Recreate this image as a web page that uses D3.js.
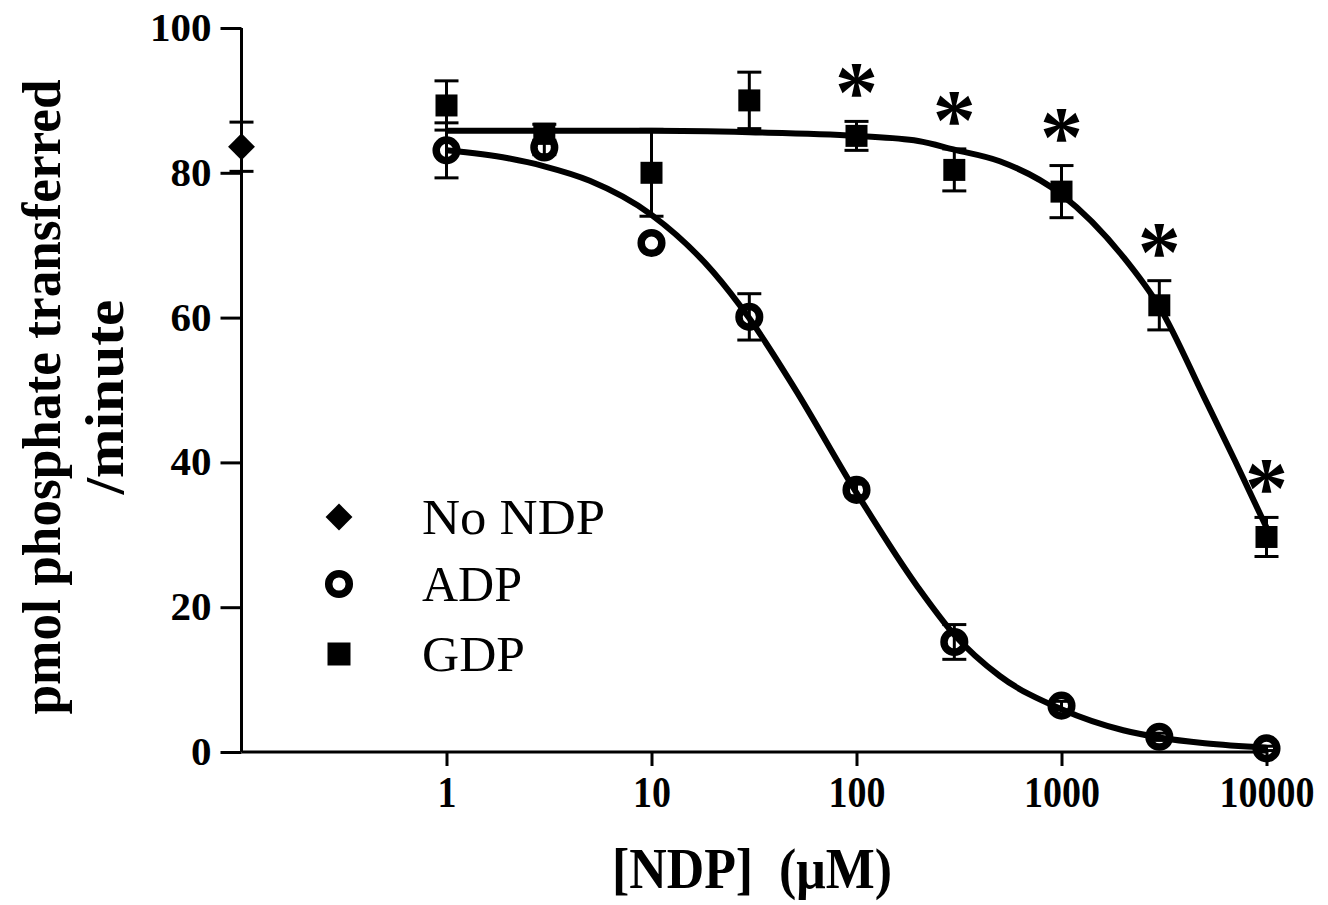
<!DOCTYPE html>
<html>
<head>
<meta charset="utf-8">
<script src="https://cdn.jsdelivr.net/npm/d3@7"></script>
<style>
  html, body { margin: 0; padding: 0; background: #fff; }
  svg { display: block; }
  text { font-family: "Liberation Serif", "Times New Roman", serif; fill: #000; white-space: pre; }
</style>
</head>
<body>
<svg id="chart" width="1328" height="905"></svg>
<script>
// ---------------- data ----------------
const concentrations = [1, 3, 10, 30, 100, 300, 1000, 3000, 10000];          // µM
const adpMean = [83.1, 83.5, 70.3, 60.1, 36.2, 15.2, 6.4, 2.1, 0.5];
const adpSem  = [3.8, 1.0, 0.0, 3.2, 0.8, 2.4, 0.6, 0.5, 0.3];
const gdpMean = [89.3, 85.4, 80.0, 90.0, 85.1, 80.4, 77.4, 61.7, 29.7];
const gdpSem  = [3.4, 1.3, 6.0, 3.9, 2.0, 2.9, 3.6, 3.4, 2.7];
const noNdpConc = [0.1];
const noNdpMean = [83.6];
const noNdpSem  = [3.4];
const significantConc = [100, 300, 1000, 3000, 10000];

// fitted curves
const adpFitX = [1, 2, 3, 5, 10, 20, 30, 50, 100, 200, 300, 500, 1000, 2000, 3000, 5000, 10000];
const adpFitY = [83.1, 82.0, 80.9, 78.9, 74.2, 66.3, 59.9, 50.2, 35.8, 22.7, 16.2, 10.5, 5.9, 3.0, 2.0, 1.2, 0.6];
const gdpFitX = [1, 10, 30, 100, 200, 300, 500, 1000, 2000, 3000, 5000, 7000, 10000];
const gdpFitY = [85.8, 85.8, 85.6, 85.1, 84.4, 83.2, 81.6, 77.0, 68.4, 61.5, 48.8, 40.3, 31.0];

const xTickValues = [1, 10, 100, 1000, 10000];
const xTickLabels = ["1", "10", "100", "1000", "10000"];
const yTickValues = [0, 20, 40, 60, 80, 100];
const legendLabels = ["No NDP", "ADP", "GDP"];
const xTitle = "[NDP]  (\u03BCM)";
const yTitleLines = ["pmol phosphate transferred", "/minute"];

// ---------------- layout ----------------
const svg = d3.select("#chart");
const x = d3.scaleLog().domain([0.1, 10000]).range([241.5, 1266.5]);
const y = d3.scaleLinear().domain([0, 100]).range([752, 28]);

// axes
const xAxis = d3.axisBottom(x).tickValues(xTickValues)
  .tickFormat((d, i) => xTickLabels[i]).tickSize(14).tickSizeOuter(0).tickPadding(10);
const gx = svg.append("g").attr("transform", `translate(0,${y(0)})`).call(xAxis);
gx.select(".domain").attr("stroke-width", 3).attr("d", `M${x(0.1)},0H${x(10000)}`);
gx.selectAll(".tick line").attr("stroke-width", 3);
gx.selectAll(".tick text")
  .attr("font-size", 44).attr("font-weight", "bold")
  .attr("dy", "0.71em")
  .attr("textLength", d => String(d).length * 19).attr("lengthAdjust", "spacingAndGlyphs");

const yAxis = d3.axisLeft(y).tickValues(yTickValues).tickSize(21).tickSizeOuter(0).tickPadding(9);
const gy = svg.append("g").attr("transform", `translate(${x(0.1)},0)`).call(yAxis);
gy.select(".domain").attr("stroke-width", 3).attr("d", `M0,${y(100)}V${y(0)}`);
gy.selectAll(".tick line").attr("stroke-width", 3);
gy.selectAll(".tick text")
  .attr("font-size", 39).attr("font-weight", "bold")
  .attr("textLength", d => String(d).length * 20.5).attr("lengthAdjust", "spacingAndGlyphs");

// axis titles
svg.append("text")
  .attr("x", 752).attr("y", 888)
  .attr("text-anchor", "middle")
  .attr("font-size", 58).attr("font-weight", "bold")
  .attr("textLength", 280).attr("lengthAdjust", "spacingAndGlyphs")
  .text(xTitle);

const yTitlePos = [{cx: 60, len: 635}, {cx: 123, len: 195}];
yTitleLines.forEach((t, i) => {
  svg.append("text")
    .attr("transform", `translate(${yTitlePos[i].cx},397) rotate(-90)`)
    .attr("text-anchor", "middle")
    .attr("font-size", 54).attr("font-weight", "bold")
    .attr("textLength", yTitlePos[i].len).attr("lengthAdjust", "spacingAndGlyphs")
    .text(t);
});

// ---------------- fitted curves ----------------
const line = d3.line().x(d => x(d[0])).y(d => y(d[1])).curve(d3.curveMonotoneX);
const plot = svg.append("g");
function errorBars(conc, mean, sem) {
  const g = plot.append("g").attr("stroke", "#000").attr("stroke-width", 3);
  conc.forEach((c, i) => {
    if (sem[i] <= 0) return;
    const cx = x(c), y1 = y(mean[i] + sem[i]), y2 = y(mean[i] - sem[i]);
    g.append("line").attr("x1", cx).attr("x2", cx).attr("y1", y1).attr("y2", y2);
    g.append("line").attr("x1", cx - 12).attr("x2", cx + 12).attr("y1", y1).attr("y2", y1);
    g.append("line").attr("x1", cx - 12).attr("x2", cx + 12).attr("y1", y2).attr("y2", y2);
  });
}
errorBars(concentrations, gdpMean, gdpSem);
errorBars(concentrations, adpMean, adpSem);
errorBars(noNdpConc, noNdpMean, noNdpSem);

plot.append("path").datum(gdpFitX.map((v, i) => [v, gdpFitY[i]]))
  .attr("d", line).attr("fill", "none").attr("stroke", "#000").attr("stroke-width", 6)
  .attr("stroke-linejoin", "round").attr("stroke-linecap", "butt");
plot.append("path").datum(adpFitX.map((v, i) => [v, adpFitY[i]]))
  .attr("d", line).attr("fill", "none").attr("stroke", "#000").attr("stroke-width", 6)
  .attr("stroke-linejoin", "round").attr("stroke-linecap", "butt");

// ---------------- markers ----------------
const square = d3.symbol().type(d3.symbolSquare).size(22 * 22);
const diamond = d3.symbol().type(d3.symbolSquare).size(19 * 19);
function drawSquare(g, cx, cy) {
  g.append("path").attr("d", square()).attr("transform", `translate(${cx},${cy})`).attr("fill", "#000");
}
function drawCircle(g, cx, cy) {
  g.append("circle").attr("cx", cx).attr("cy", cy).attr("r", 10.3)
    .attr("fill", "none").attr("stroke", "#000").attr("stroke-width", 7.5);
}
function drawDiamond(g, cx, cy) {
  g.append("path").attr("d", diamond()).attr("transform", `translate(${cx},${cy}) rotate(45)`).attr("fill", "#000");
}
concentrations.forEach((c, i) => drawSquare(plot, x(c), y(gdpMean[i])));
concentrations.forEach((c, i) => drawCircle(plot, x(c), y(adpMean[i])));
noNdpConc.forEach((c, i) => drawDiamond(plot, x(c), y(noNdpMean[i])));

// significance asterisks above GDP error bars
significantConc.forEach(c => {
  const i = concentrations.indexOf(c);
  svg.append("text")
    .attr("x", x(c)).attr("y", y(gdpMean[i] + gdpSem[i] + 5.1))
    .attr("dy", "0.43em")
    .attr("text-anchor", "middle")
    .attr("font-size", 86).attr("font-weight", "bold")
    .text("*");
});

// ---------------- legend ----------------
const legendY = [517, 584, 654];
const legendTextLen = [183, 100, 103];
const leg = svg.append("g");
drawDiamond(leg, 339, legendY[0]);
drawCircle(leg, 339, legendY[1]);
leg.append("path").attr("d", d3.symbol().type(d3.symbolSquare).size(23 * 23)())
  .attr("transform", `translate(339,${legendY[2]})`).attr("fill", "#000");
legendLabels.forEach((t, i) => {
  leg.append("text")
    .attr("x", 422).attr("y", legendY[i] + 17)
    .attr("font-size", 50)
    .attr("textLength", legendTextLen[i]).attr("lengthAdjust", "spacingAndGlyphs")
    .text(t);
});
</script>
</body>
</html>
